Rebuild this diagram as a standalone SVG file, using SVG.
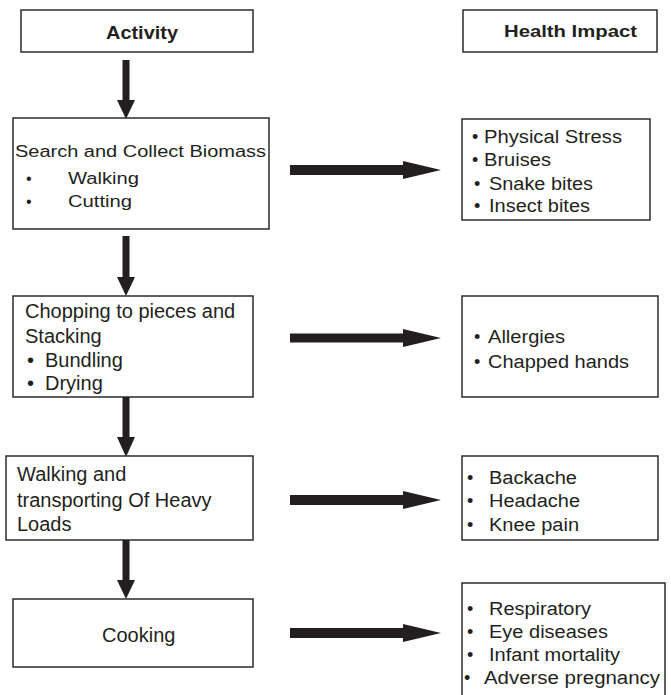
<svg xmlns="http://www.w3.org/2000/svg" width="671" height="695" viewBox="0 0 671 695">
<style>
.box{fill:#fff;stroke:#2b2b2b;stroke-width:1.5}
.t{font-family:"Liberation Sans",Arial,sans-serif;fill:#231f20}
.l{font-size:20px}
.s{font-size:16px}
.r{font-size:18px}
.h{font-weight:bold}
.arr{fill:#231f20;stroke:none}
</style>
<rect width="671" height="695" fill="#fff"/>
<g id="connectors">
<path class="arr" d="M122.5,60 H129.5 V100 H135 L126,119 L117,100 H122.5 Z"/>
<path class="arr" d="M122.5,236 H129.5 V277 H135 L126,296 L117,277 H122.5 Z"/>
<path class="arr" d="M122.5,397 H129.5 V437 H135 L126,457 L117,437 H122.5 Z"/>
<path class="arr" d="M122.5,540 H129.5 V580 H135 L126,599 L117,580 H122.5 Z"/>
<path class="arr" d="M290,165 H403 V161 L441,170 L403,179 V175 H290 Z"/>
<path class="arr" d="M290,333.5 H403 V329 L441,338 L403,347 V342.5 H290 Z"/>
<path class="arr" d="M290,495 H403 V491 L441,500 L403,509 V505 H290 Z"/>
<path class="arr" d="M290,628 H403 V624 L441,633 L403,642 V638 H290 Z"/>
</g>
<g id="activity-header">
<rect class="box" x="21" y="10" width="232" height="42"/>
<text class="t h" x="106" y="39" font-size="19" textLength="72" lengthAdjust="spacingAndGlyphs">Activity</text>
</g>
<g id="health-header">
<rect class="box" x="463" y="10" width="194" height="42"/>
<text class="t h" x="504" y="37" font-size="16" textLength="133" lengthAdjust="spacingAndGlyphs">Health Impact</text>
</g>
<g id="search-collect">
<rect class="box" x="13" y="118" width="256" height="111"/>
<text class="t s" x="15" y="157" textLength="251" lengthAdjust="spacingAndGlyphs">Search and Collect Biomass</text>
<text class="t s" x="26" y="184">•</text>
<text class="t s" x="68" y="184" textLength="71" lengthAdjust="spacingAndGlyphs">Walking</text>
<text class="t s" x="26" y="207">•</text>
<text class="t s" x="68" y="207" textLength="64" lengthAdjust="spacingAndGlyphs">Cutting</text>
</g>
<g id="chopping">
<rect class="box" x="13" y="296" width="240" height="101"/>
<text class="t l" x="25" y="318">Chopping to pieces and</text>
<text class="t l" x="25" y="343">Stacking</text>
<text class="t l" x="27" y="367">•</text>
<text class="t l" x="45" y="367">Bundling</text>
<text class="t l" x="27" y="390">•</text>
<text class="t l" x="45" y="390">Drying</text>
</g>
<g id="transporting">
<rect class="box" x="6" y="456" width="247" height="84"/>
<text class="t l" x="17" y="481">Walking and</text>
<text class="t l" x="17" y="507">transporting Of Heavy</text>
<text class="t l" x="17" y="531">Loads</text>
</g>
<g id="cooking">
<rect class="box" x="13" y="599" width="240" height="68"/>
<text class="t l" x="102" y="642">Cooking</text>
</g>
<g id="impact-1">
<rect class="box" x="462" y="119" width="188" height="101"/>
<text class="t r" x="472" y="143">•</text>
<text class="t r" x="484" y="143" textLength="138" lengthAdjust="spacingAndGlyphs">Physical Stress</text>
<text class="t r" x="472" y="166">•</text>
<text class="t r" x="484" y="166" textLength="67" lengthAdjust="spacingAndGlyphs">Bruises</text>
<text class="t r" x="474" y="190">•</text>
<text class="t r" x="489" y="190" textLength="104" lengthAdjust="spacingAndGlyphs">Snake bites</text>
<text class="t r" x="474" y="212">•</text>
<text class="t r" x="489" y="212" textLength="101" lengthAdjust="spacingAndGlyphs">Insect bites</text>
</g>
<g id="impact-2">
<rect class="box" x="462" y="296" width="196" height="101"/>
<text class="t r" x="474" y="343">•</text>
<text class="t r" x="488" y="343" textLength="77" lengthAdjust="spacingAndGlyphs">Allergies</text>
<text class="t r" x="474" y="368">•</text>
<text class="t r" x="488" y="368" textLength="141" lengthAdjust="spacingAndGlyphs">Chapped hands</text>
</g>
<g id="impact-3">
<rect class="box" x="462" y="456" width="196" height="84"/>
<text class="t r" x="467" y="484">•</text>
<text class="t r" x="489" y="484" textLength="88" lengthAdjust="spacingAndGlyphs">Backache</text>
<text class="t r" x="467" y="507">•</text>
<text class="t r" x="489" y="507" textLength="91" lengthAdjust="spacingAndGlyphs">Headache</text>
<text class="t r" x="467" y="531">•</text>
<text class="t r" x="489" y="531" textLength="90" lengthAdjust="spacingAndGlyphs">Knee pain</text>
</g>
<g id="impact-4">
<path d="M462,700 V583 H665 V700" fill="#fff" stroke="#2b2b2b" stroke-width="1.5"/>
<text class="t r" x="467" y="615">•</text>
<text class="t r" x="489" y="615" textLength="102" lengthAdjust="spacingAndGlyphs">Respiratory</text>
<text class="t r" x="467" y="638">•</text>
<text class="t r" x="489" y="638" textLength="119" lengthAdjust="spacingAndGlyphs">Eye diseases</text>
<text class="t r" x="467" y="661">•</text>
<text class="t r" x="489" y="661" textLength="131" lengthAdjust="spacingAndGlyphs">Infant mortality</text>
<text class="t r" x="464" y="684">•</text>
<text class="t r" x="484" y="684" textLength="176" lengthAdjust="spacingAndGlyphs">Adverse pregnancy</text>
</g>
</svg>
